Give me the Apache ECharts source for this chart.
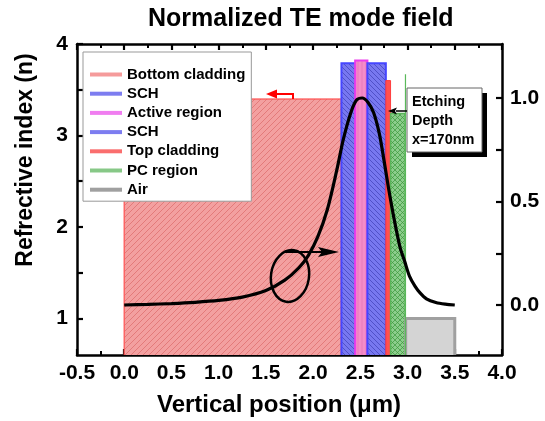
<!DOCTYPE html>
<html>
<head>
<meta charset="utf-8">
<script src="https://cdn.jsdelivr.net/npm/echarts@6/dist/echarts.min.js"></script>
<style>html,body{margin:0;padding:0;background:#fff;}#c{width:545px;height:421px;}</style>
</head>
<body>
<div id="c"></div>
<script>
const layerNames = ['Bottom cladding', 'SCH', 'Active region', 'SCH', 'Top cladding', 'PC region', 'Air'];
const layerStart = [0.00, 2.30, 2.445, 2.575, 2.77, 2.82, 2.98];
const layerEnd   = [2.30, 2.445, 2.575, 2.77, 2.82, 2.975, 3.50];
const layerIndex = [3.40, 3.79, 3.82, 3.79, 3.60, 3.24, 1.00];
const pcEdgeX = [2.978, 2.978];
const pcEdgeN = [0.6, 3.67];
const fieldX = [0, 0.25, 0.5, 0.75, 1.0, 1.25, 1.5, 1.7, 1.85, 1.95, 2.05, 2.15, 2.25, 2.32, 2.4, 2.46, 2.52, 2.58, 2.64, 2.7, 2.75, 2.8, 2.86, 2.92, 2.97, 3.02, 3.08, 3.13, 3.2, 3.3, 3.4, 3.5];
const fieldY = [0.0, 0.003, 0.007, 0.013, 0.022, 0.038, 0.07, 0.12, 0.18, 0.24, 0.33, 0.46, 0.65, 0.8, 0.93, 0.99, 1.0, 0.98, 0.93, 0.83, 0.7, 0.56, 0.41, 0.28, 0.21, 0.14, 0.09, 0.06, 0.03, 0.012, 0.004, 0.0];
const nLabels = [1, 2, 3, 4];
const nTicks = [1, 1.5, 2, 2.5, 3, 3.5, 4];
const fLabels = [0.0, 0.5, 1.0];
const fTicks = [0, 0.25, 0.5, 0.75, 1.0];

function makePattern(bg, lc, mode, step, lw) {
  const s = step;
  const cv = document.createElement('canvas');
  cv.width = s; cv.height = s;
  const g = cv.getContext('2d');
  g.fillStyle = bg; g.fillRect(0, 0, s, s);
  g.strokeStyle = lc; g.lineWidth = lw;
  function fwd() { g.beginPath(); g.moveTo(-1, s + 1); g.lineTo(s + 1, -1); g.moveTo(-1, 1); g.lineTo(1, -1); g.moveTo(s - 1, s + 1); g.lineTo(s + 1, s - 1); g.stroke(); }
  function back() { g.beginPath(); g.moveTo(-1, -1); g.lineTo(s + 1, s + 1); g.moveTo(s - 1, -1); g.lineTo(s + 1, 1); g.moveTo(-1, s - 1); g.lineTo(1, s + 1); g.stroke(); }
  if (mode === 'fwd' || mode === 'cross') fwd();
  if (mode === 'back' || mode === 'cross') back();
  if (mode === 'vert') { g.beginPath(); g.moveTo(s / 2, 0); g.lineTo(s / 2, s); g.stroke(); }
  return { image: cv, repeat: 'repeat' };
}
const layerStyles = [
  { fill: makePattern('rgb(243,160,160)', 'rgb(222,112,112)', 'fwd', 6, 0.8), stroke: 'rgba(255,80,80,0.8)', lw: 1.5 },
  { fill: makePattern('rgb(120,120,240)', 'rgb(70,70,190)', 'back', 5, 0.8), stroke: 'rgb(70,70,255)', lw: 2 },
  { fill: makePattern('rgb(245,140,200)', 'rgb(225,110,180)', 'vert', 4, 0.6), stroke: 'rgb(235,60,235)', lw: 2 },
  { fill: makePattern('rgb(120,120,240)', 'rgb(70,70,190)', 'back', 5, 0.8), stroke: 'rgb(70,70,255)', lw: 2 },
  { fill: 'rgb(255,80,80)', stroke: 'rgb(255,60,60)', lw: 1 },
  { fill: makePattern('rgb(140,205,140)', 'rgb(60,150,60)', 'cross', 5, 0.7), stroke: 'rgb(90,180,90)', lw: 1.5 },
  { fill: 'rgb(212,212,212)', stroke: 'rgb(160,160,160)', lw: 3 }
];
const legendColors = ['rgb(245,155,155)', 'rgb(125,125,240)', 'rgb(240,125,240)', 'rgb(125,125,240)', 'rgb(250,110,110)', 'rgb(135,200,135)', 'rgb(160,160,160)'];
const FONT = '"Liberation Sans", Arial, sans-serif';

const series = layerNames.map((nm, i) => ({
  type: 'custom', name: i === 3 ? nm + ' ' : nm, xAxisIndex: 0, yAxisIndex: 0, clip: true, z: 2,
  encode: { x: [0, 1], y: 2 },
  data: [[layerStart[i], layerEnd[i], layerIndex[i]]],
  renderItem: function (params, api) {
    const p1 = api.coord([api.value(0), api.value(2)]);
    const p2 = api.coord([api.value(1), 0]);
    const st = layerStyles[i];
    return { type: 'rect', shape: { x: p1[0], y: p1[1], width: p2[0] - p1[0], height: p2[1] - p1[1] },
      style: { fill: st.fill, stroke: st.stroke, lineWidth: st.lw } };
  }
}));
series.push({ type: 'line', name: 'pcEdge', xAxisIndex: 0, yAxisIndex: 0, symbol: 'none', z: 3,
  lineStyle: { color: 'rgb(90,185,90)', width: 1.2 }, data: pcEdgeX.map((x, k) => [x, pcEdgeN[k]]) });
series.push({ type: 'line', name: 'field', xAxisIndex: 0, yAxisIndex: 1, symbol: 'none', smooth: 0.3, z: 5,
  lineStyle: { color: '#000', width: 3.2 }, data: fieldX.map((x, k) => [x, fieldY[k]]) });

const tickFont = { fontFamily: FONT, fontWeight: 'bold', fontSize: 21, color: '#000' };
function aLine() { return { show: true, onZero: false, lineStyle: { color: '#000', width: 2.5 } }; }
function tick(extra) { return Object.assign({ show: true, inside: false, length: -6, lineStyle: { color: '#000', width: 2.2 } }, extra || {}); }
function minor() { return { show: true, splitNumber: 2, length: -4, lineStyle: { color: '#000', width: 2 } }; }

const option = {
  animation: false,
  backgroundColor: '#fff',
  title: { text: 'Normalized TE mode field', left: 143, top: 2,
    textStyle: { fontFamily: FONT, fontWeight: 'bold', fontSize: 25, color: '#000' } },
  grid: { left: 77, right: 43, top: 44, bottom: 66 },
  legend: {
    left: 83, top: 52, orient: 'vertical', selectedMode: false,
    backgroundColor: '#fff', borderColor: '#999', borderWidth: 1,
    padding: [14, 6, 3, 7], itemGap: 2.2, itemWidth: 32, itemHeight: 4, icon: 'rect',
    textStyle: { fontFamily: FONT, fontWeight: 'bold', fontSize: 15, color: '#000', lineHeight: 17 },
    data: layerNames.map((nm, i) => ({ name: i === 3 ? nm + ' ' : nm, itemStyle: { color: legendColors[i] } }))
  },
  xAxis: [
    { type: 'value', position: 'bottom', min: -0.5, max: 4.0, interval: 0.5, axisLine: aLine(),
      axisTick: tick(), minorTick: minor(),
      axisLabel: { show: true, margin: 8, formatter: v => v.toFixed(1), ...tickFont },
      splitLine: { show: false } },
    { type: 'value', position: 'top', min: -0.5, max: 4.0, interval: 0.5, axisLine: aLine(),
      axisTick: tick(), minorTick: minor(),
      axisLabel: { show: false }, splitLine: { show: false } }
  ],
  yAxis: [
    { type: 'value', position: 'left', min: 0.6, max: 4.0, axisLine: aLine(),
      axisTick: tick({ customValues: nTicks }),
      axisLabel: { margin: 9, customValues: nLabels, formatter: v => String(Math.round(v)), ...tickFont },
      splitLine: { show: false } },
    { type: 'value', position: 'right', min: -0.2415, max: 1.261, axisLine: aLine(),
      axisTick: tick({ customValues: fTicks }),
      axisLabel: { margin: 8, customValues: fLabels, formatter: v => v.toFixed(1), ...tickFont },
      splitLine: { show: false } }
  ],
  graphic: [
    { type: 'text', x: 26, y: 160, rotation: Math.PI / 2, z: 10,
      style: { text: 'Refrective index (n)', fontFamily: FONT, fontWeight: 'bold', fontSize: 23, fill: '#000', textAlign: 'center', textVerticalAlign: 'middle' } },
    { type: 'text', x: 279, y: 405, z: 10,
      style: { text: 'Vertical position (\u03bcm)', fontFamily: FONT, fontWeight: 'bold', fontSize: 24, fill: '#000', textAlign: 'center', textVerticalAlign: 'middle' } },
    { type: 'polyline', z: 10, shape: { points: [[293, 99], [293, 94], [274, 94]] }, style: { stroke: '#f00', lineWidth: 2, fill: null } },
    { type: 'polygon', z: 10, shape: { points: [[266, 94], [277, 89.5], [277, 98.5]] }, style: { fill: '#f00' } },
    { type: 'ellipse', z: 10, x: 290, y: 276, rotation: -0.15, shape: { cx: 0, cy: 0, rx: 19, ry: 26 }, style: { stroke: '#000', lineWidth: 2.5, fill: null } },
    { type: 'line', z: 10, shape: { x1: 285, y1: 252, x2: 330, y2: 252 }, style: { stroke: '#000', lineWidth: 2.2 } },
    { type: 'polygon', z: 10, shape: { points: [[339, 252], [318, 247], [322, 252], [318, 257]] }, style: { fill: '#000' } },
    { type: 'rect', z: 10, shape: { x: 412, y: 93, width: 75, height: 64 }, style: { fill: '#000' } },
    { type: 'rect', z: 11, shape: { x: 407, y: 88, width: 75, height: 64 }, style: { fill: '#fff', stroke: '#666', lineWidth: 1 } },
    { type: 'text', z: 12, x: 412, y: 92, style: { text: 'Etching\nDepth\nx=170nm', fontFamily: FONT, fontWeight: 'bold', fontSize: 14.5, lineHeight: 19, fill: '#000' } },
    { type: 'line', z: 12, shape: { x1: 407, y1: 111, x2: 396, y2: 111 }, style: { stroke: '#000', lineWidth: 1.5 } },
    { type: 'polygon', z: 12, shape: { points: [[388, 111], [397, 107.5], [395, 111], [397, 114.5]] }, style: { fill: '#000' } }
  ],
  series: series
};
const chart = echarts.init(document.getElementById('c'), null, { renderer: 'canvas' });
chart.setOption(option);
</script>
</body>
</html>
